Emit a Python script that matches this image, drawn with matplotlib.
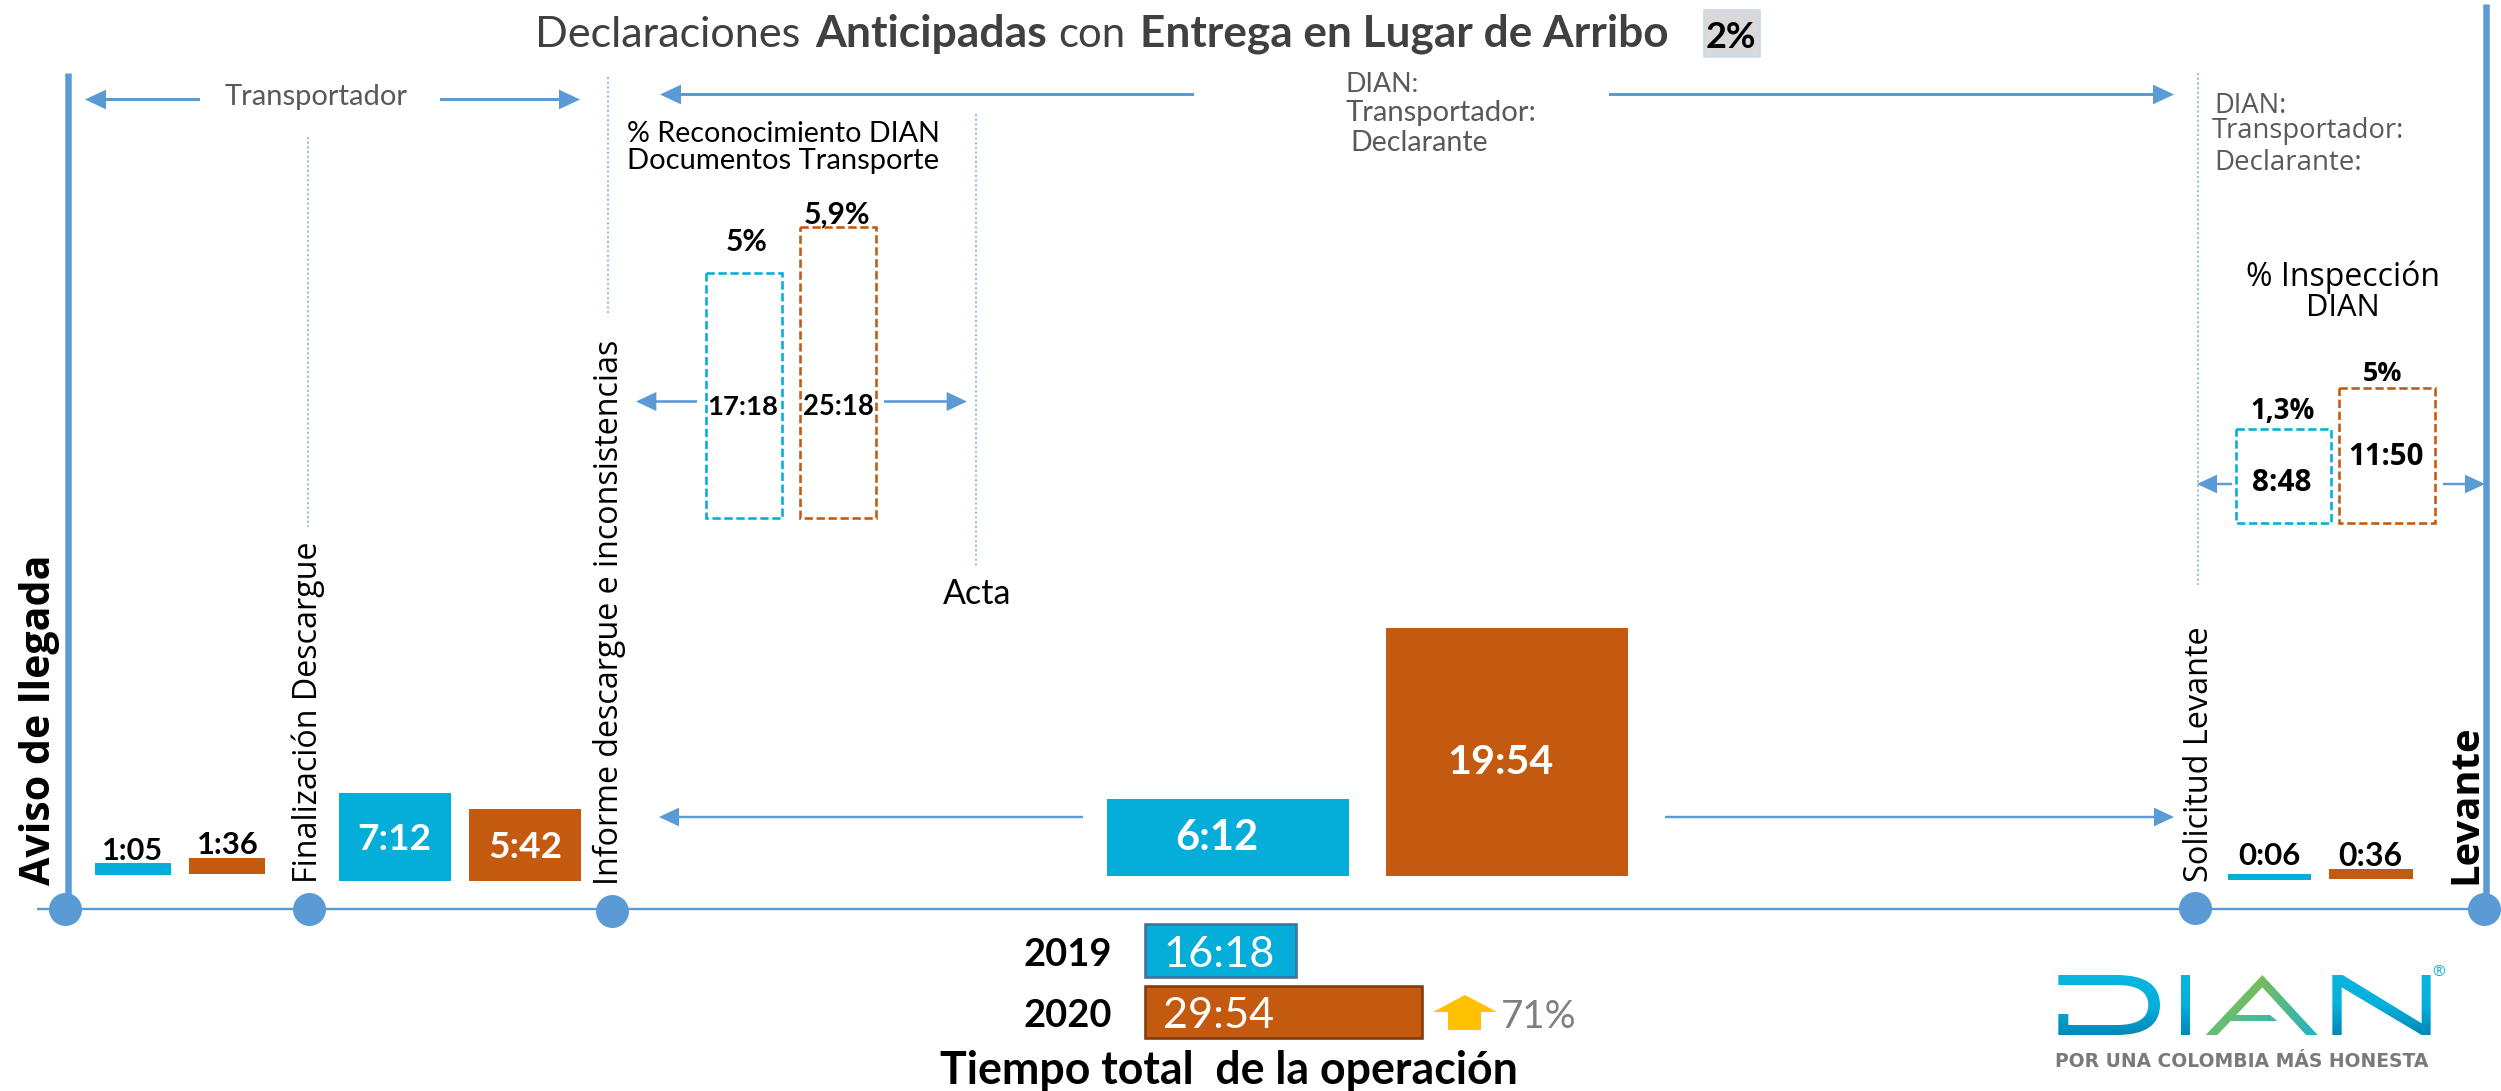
import numpy as np
import matplotlib
matplotlib.use("Agg")
import matplotlib.pyplot as plt
from matplotlib.patches import FancyArrowPatch, Polygon, Rectangle
from matplotlib.path import Path
from matplotlib.colors import LinearSegmentedColormap

# ---------- data ----------
milestones = ["Aviso de llegada", "Finalización Descargue",
              "Informe descargue e inconsistencias", "Solicitud Levante", "Levante"]
step_labels_2019 = ["1:05", "7:12", "6:12", "0:06"]
step_labels_2020 = ["1:36", "5:42", "19:54", "0:36"]
step_hours_2019 = [0.96, 7.07, 6.2, 0.48]
step_hours_2020 = [1.29, 5.78, 19.9, 0.8]
doc_labels = ["17:18", "25:18"]
doc_hours = [19.68, 23.37]
doc_pct = ["5%", "5,9%"]
insp_labels = ["8:48", "11:50"]
insp_hours = [7.55, 10.84]
insp_pct = ["1,3%", "5%"]
years = ["2019", "2020"]
total_labels = ["16:18", "29:54"]
total_hours = [16.3, 29.9]
growth = "71%"
share = "2%"

# ---------- layout (pixels) ----------
W, H = 2501, 1091
PX_H = 12.45
PX_TOTAL = 9.26
BLUE, BROWN, LINE = "#05ADD9", "#C45A0F", "#5B9BD5"

fig = plt.figure(figsize=(W / 100, H / 100), dpi=100, facecolor="white")
ax = fig.add_axes([0, 0, 1, 1])
ax.set_xlim(0, W)
ax.set_ylim(H, 0)
ax.axis("off")
renderer = fig.canvas.get_renderer()

CAL = ["Lato", "DejaVu Sans"]
SEG = ["Open Sans", "DejaVu Sans"]
CAP = {"Lato": 0.72, "Open Sans": 0.714, "DejaVu Sans": 0.73}


def fit_size(s, width, family, weight):
    t = ax.text(0, 0, s, fontsize=20, family=family, fontweight=weight)
    w = t.get_window_extent(renderer).width
    t.remove()
    return 20 * width / w


def label(s, x, yc, width, color="black", weight="normal", family=CAL, ha="center", z=6, grow=1.0):
    """Horizontal text, fitted to a width, with capitals centred on yc."""
    fs = fit_size(s, width, family, weight) * grow
    em = fs / 0.72
    base = yc + CAP[family[0]] * em / 2
    return ax.text(x, base, s, fontsize=fs, family=family, fontweight=weight,
                   color=color, ha=ha, va="baseline", zorder=z)


def vlabel(s, xbase, ybottom, length, weight="normal", family=SEG):
    fs = fit_size(s, length, family, weight)
    ax.text(xbase, ybottom, s, fontsize=fs, family=family, fontweight=weight,
            color="black", rotation=90, rotation_mode="anchor",
            ha="left", va="baseline", zorder=6)


def arrow(x0, y0, x1, y1, lw=3.0, hl=16, hw=15):
    ax.add_patch(FancyArrowPatch(
        (x0, y0), (x1, y1), shrinkA=0, shrinkB=0, mutation_scale=1,
        arrowstyle=f"-|>,head_length={hl*0.72},head_width={hw*0.36}",
        lw=lw * 0.72, color=LINE, zorder=3, joinstyle="miter", capstyle="butt"))


# ---------- timeline ----------
ax.plot([37, 2486], [909, 909], color=LINE, lw=2.4 * 0.72, zorder=2, solid_capstyle="butt")
ax.plot([68, 68], [73, 905], color=LINE, lw=6.5 * 0.72, zorder=2, solid_capstyle="butt")
ax.plot([2486, 2486], [4, 905], color=LINE, lw=6.5 * 0.72, zorder=2, solid_capstyle="butt")
circle_x = [65, 309, 612, 2195, 2484]
circle_y = [909, 909, 911, 908, 909]
ax.scatter(circle_x, circle_y, s=(33 * 0.72) ** 2, color=LINE, linewidths=0, zorder=4, clip_on=True)

for x, y0, y1 in [(308, 137, 527), (608, 77, 316), (976, 114, 568), (2198, 73, 585)]:
    ax.plot([x, x], [y0, y1], color="#8DB9E2", lw=1.8 * 0.72, ls=(0, (1.2, 1.4)), zorder=1)

bases_x = [50, 317, 618, 2208, 2476]
bases_y = [885, 883, 885, 882, 884]
lengths = [330, 341, 545, 256, 160]
weights = ["bold", "normal", "normal", "normal", "bold"]
for m, xb, yb, ln, wt in zip(milestones, bases_x, bases_y, lengths, weights):
    vlabel(m, xb, yb, ln, weight=wt)

# ---------- step bars ----------
x_2019 = [(95, 171), (339, 451), (1107, 1349), (2228, 2311)]
x_2020 = [(189, 265), (469, 581), (1386, 1628), (2329, 2413)]
bot_2019 = [875, 881, 876, 880]
bot_2020 = [874, 881, 876, 879]
for spans, hours, bots, col in [(x_2019, step_hours_2019, bot_2019, BLUE),
                                (x_2020, step_hours_2020, bot_2020, BROWN)]:
    for (a, b), h, bt in zip(spans, hours, bots):
        ax.bar(a, h * PX_H, width=b - a, bottom=bt - h * PX_H, align="edge",
               color=col, linewidth=0, zorder=3)

step_text_pos_2019 = [(133, 849, 55, "black"), (394, 837, 66, "white"),
                      (1217, 835, 74, "white"), (2269, 854, 56, "black")]
step_text_pos_2020 = [(228, 843, 55, "black"), (525, 845, 66, "white"),
                      (1500, 759, 95, "white"), (2370, 854, 57, "black")]
for labs, pos in [(step_labels_2019, step_text_pos_2019), (step_labels_2020, step_text_pos_2020)]:
    for s, (x, y, w, c) in zip(labs, pos):
        label(s, x, y, w, color=c, weight="bold", grow=1.12)

# ---------- dashed boxes ----------
DASH = (0, (3.2, 1.4))
doc_x = [(705.5, 782), (800, 876)]
insp_x = [(2236, 2331), (2339, 2435)]
for spans, hours, bt in [(doc_x, doc_hours, 518), (insp_x, insp_hours, 523)]:
    for (a, b), h, col in zip(spans, hours, [BLUE, BROWN]):
        ax.bar(a, h * PX_H, width=b - a, bottom=bt - h * PX_H, align="edge",
               facecolor="none", edgecolor=col, linewidth=2.6 * 0.72, linestyle=DASH, zorder=3)

for s, (x, y, w) in zip(doc_labels, [(743, 405, 67), (838, 405, 67)]):
    label(s, x, y, w, weight="bold", grow=1.06)
for s, (x, y, w) in zip(doc_pct, [(747, 240, 39), (837, 213, 62)]):
    label(s, x, y, w, weight="bold", grow=1.08)
for s, (x, y, w) in zip(insp_labels, [(2282, 480, 57), (2386, 454, 73)]):
    label(s, x, y, w, weight="bold", family=SEG, grow=1.04)
for s, (x, y, w) in zip(insp_pct, [(2283, 409, 62), (2383, 371, 38)]):
    label(s, x, y, w, weight="bold", family=SEG, grow=1.04)

label("% Reconocimiento DIAN", 783, 132, 313)
label("Documentos Transporte", 783, 159, 312)
label("Acta", 977, 592, 65, grow=1.05)
label("% Inspección", 2343, 275, 193, family=SEG)
label("DIAN", 2343, 305, 74, family=SEG)

# ---------- arrows ----------
arrow(200, 99.5, 85, 99.5)
arrow(440, 99.5, 580, 99.5)
arrow(1194, 94.5, 660, 94.5)
arrow(1609, 94.5, 2174, 94.5)
arrow(697, 401.5, 636, 401.5, lw=2.6)
arrow(884, 401.5, 967, 401.5, lw=2.6)
arrow(1083, 817, 659, 817, lw=2.4)
arrow(1665, 817, 2174, 817, lw=2.4)
arrow(2232, 484, 2197, 484, lw=2.4)
arrow(2443, 484, 2485, 484, lw=2.4)

# ---------- role texts ----------
GREY = "#595959"
label("Transportador", 316.5, 95, 183, color=GREY)
label("DIAN:", 1345, 82, 73, color=GREY, ha="left")
label("Transportador:", 1345, 110, 191, color=GREY, ha="left")
label("Declarante", 1350, 141, 138, color=GREY, ha="left")
label("DIAN:", 2214, 103, 73, color=GREY, ha="left", family=SEG)
label("Transportador:", 2212, 128, 192, color=GREY, ha="left", family=SEG)
label("Declarante:", 2214, 160, 147, color=GREY, ha="left", family=SEG)

# ---------- title ----------
TITLE = "#404040"
for s, x0, x1, wt in [("Declaraciones", 535, 801, "normal"), ("Anticipadas", 815, 1047, "bold"),
                      ("con", 1058, 1125, "normal"), ("Entrega en Lugar de Arribo", 1140, 1667, "bold")]:
    fs = fit_size(s, x1 - x0, CAL, wt)
    ax.text(x0, 47, s, fontsize=fs, family=CAL, fontweight=wt, color=TITLE, ha="left", va="baseline", zorder=6)
ax.add_patch(Rectangle((1704, 10), 56, 47, facecolor="#D9D9D9", edgecolor="#C5D9F1", lw=1.2, zorder=3))
label(share, 1731, 35, 46, weight="bold", grow=1.1)

# ---------- totals ----------
total_y = [(924, 977), (986, 1038)]
total_edges = ["#41719C", "#843C0C"]
for lab, yr, hrs, (y0, y1), col, ed in zip(total_labels, years, total_hours, total_y, [BLUE, BROWN], total_edges):
    ax.barh(y0, hrs * PX_TOTAL, height=y1 - y0, left=1145, align="edge", color=col,
            edgecolor=ed, linewidth=2.6 * 0.72, zorder=3)
    yc = (y0 + y1) / 2 + 0.5
    label(lab, 1163, yc, 106, color="white", ha="left", grow=1.05)
    label(yr, 1068, yc + 1, 84, weight="bold", grow=1.05)
ax.add_patch(Polygon([(1433, 1012), (1465, 995), (1497, 1012), (1481, 1012), (1481, 1030),
                      (1448, 1030), (1448, 1012)], closed=True, facecolor="#FFC000", edgecolor="none", zorder=3))
label(growth, 1501, 1014, 72, color="#7F7F7F", ha="left", grow=1.05)
label("Tiempo total  de la operación", 1229, 1068, 578, weight="bold")


# ---------- logo ----------
def lx(v):
    return 2020 + v / 3


def ly(v):
    return 950 + v / 3


def gradient_shape(verts, codes, cols, horizontal=False):
    xy = np.array([(lx(a), ly(b)) for a, b in verts])
    path = Path(xy, codes)
    cmap = LinearSegmentedColormap.from_list("g", cols)
    ramp = np.linspace(0, 1, 64)
    arr = ramp[None, :] if horizontal else ramp[:, None]
    x0, x1 = xy[:, 0].min(), xy[:, 0].max()
    y0, y1 = xy[:, 1].min(), xy[:, 1].max()
    im = ax.imshow(arr, cmap=cmap, extent=(x0, x1, y1, y0), aspect="auto", origin="upper", zorder=3)
    im.set_clip_path(path, ax.transData)
    ax.set_xlim(0, W)
    ax.set_ylim(H, 0)


M, L, C, Z = Path.MOVETO, Path.LINETO, Path.CURVE3, Path.CLOSEPOLY
V = ["#08B6E0", "#05B0DB", "#0088B8"]
gradient_shape([(115, 75), (290, 75), (420, 75), (420, 165), (420, 255), (290, 255), (115, 255), (115, 192),
                (145, 192), (145, 225), (290, 225), (385, 225), (385, 165), (385, 105), (290, 105),
                (115, 105), (115, 75)],
               [M, L, C, C, C, C, L, L, L, L, L, C, C, C, C, L, Z], V)
gradient_shape([(483, 75), (510, 75), (510, 255), (483, 255), (483, 75)], [M, L, L, L, Z], V)
gradient_shape([(557, 255), (727, 75), (893, 255), (858, 255), (727, 112), (592, 255), (557, 255)],
               [M, L, L, L, L, L, Z], ["#5FBF7A", "#75BC5F", "#1FB2CC"], horizontal=True)
gradient_shape([(640, 195), (750, 195), (772, 213), (622, 213), (640, 195)], [M, L, L, L, Z],
               ["#5FBF7A", "#3DB8A8"], horizontal=True)
gradient_shape([(937, 255), (937, 75), (968, 75), (1205, 220), (1205, 75), (1232, 75), (1232, 255),
                (1205, 255), (965, 112), (965, 255), (937, 255)],
               [M, L, L, L, L, L, L, L, L, L, Z], V)
ax.text(2439, 973, "®", fontsize=11, family=SEG, color="#08B6E0", ha="center", va="center", zorder=6)
label("POR UNA COLOMBIA MÁS HONESTA", 2241.5, 1060, 373, color="#7A7A7A", weight="bold",
      family=["DejaVu Sans"])

fig.savefig("out.png", dpi=100, facecolor="white")
